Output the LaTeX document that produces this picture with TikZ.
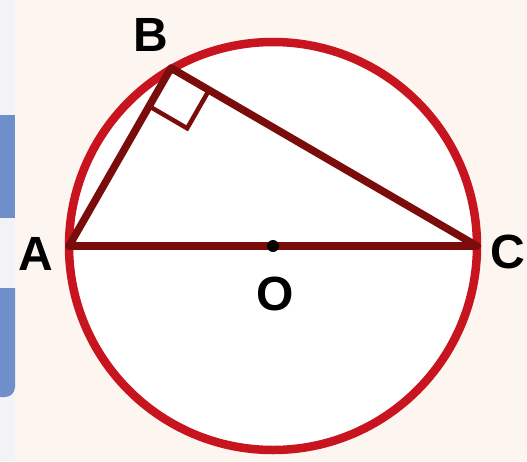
\documentclass[tikz,border=0pt]{standalone}
\usepackage{fontspec}
\setmainfont{Liberation Sans}
\usetikzlibrary{calc}
\definecolor{bgcream}{HTML}{FDF5EF}
\definecolor{stripgray}{HTML}{F2F3F7}
\definecolor{tabblue}{HTML}{6E8ECC}
\definecolor{rimred}{HTML}{C8141E}
\definecolor{chordred}{HTML}{7B0C0C}
\tikzset{
  lbl/.style={font=\fontsize{48}{48}\selectfont\bfseries, inner sep=0pt},
  rim/.style={draw=rimred, line width=8.5pt},
  chord/.style={draw=chordred, line width=7.5pt, line cap=round, line join=round},
  rightmark/.style={draw=chordred, line width=4.5pt}
}
\begin{document}
\begin{tikzpicture}[x=1pt,y=-1pt]
 % background and side tabs
 \fill[bgcream] (0,0) rectangle (527,461);
 \useasboundingbox (0,0) rectangle (527,461);
 \fill[stripgray] (0,0) rectangle (15,461);
 \fill[tabblue] (0,115) rectangle (15,218);
 \fill[tabblue] (0,288) -- (15,288) -- (15,387) arc (0:-90:10pt) -- (0,397) -- cycle;
 % points
 \coordinate (O) at (273,246);
 \coordinate (A) at (69,246);
 \coordinate (C) at (477,246);
 \coordinate (B) at (171,68);
 % circle
 \fill[white] (O) circle (204pt);
 \draw[rim] (O) circle (204pt);
 % triangle
 \draw[chord] (A) -- (C);
 \draw[chord] (A) -- (B) -- (C);
 \draw[rightmark] ($(B)!44pt!(A)$) -- ($(B)!44pt!(A)+(B)!44pt!(C)-(B)$) -- ($(B)!44pt!(C)$);
 \fill[black] (O) circle (6pt);
 % labels
 \node[lbl] (labB) at (151,35) {B};
 \node[lbl] (labA) at (36,254) {A};
 \node[lbl] (labC) at (508,252) {C};
 \node[lbl] (labO) at (275,294) {O};
\end{tikzpicture}
\end{document}
